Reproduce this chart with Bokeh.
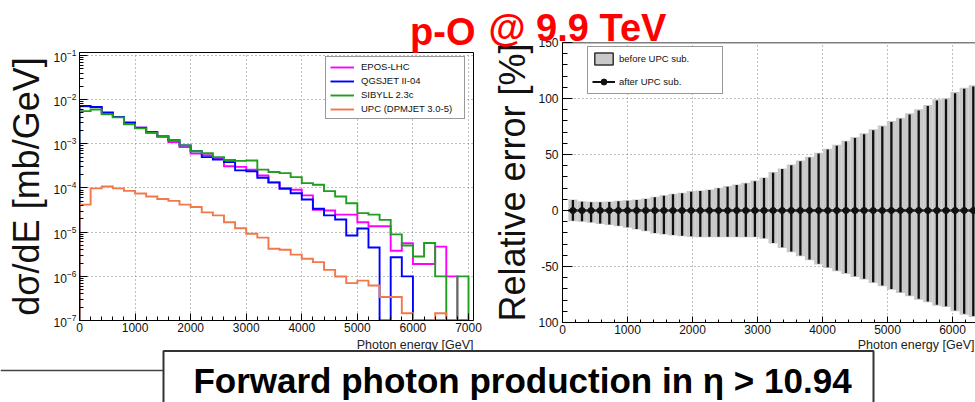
import numpy as np
from bokeh.plotting import figure
from bokeh.models import (Range1d, SingleIntervalTicker, LogTicker, Span, Title,
                          Legend, LegendItem, ColumnDataSource)
from bokeh.layouts import row, column
from bokeh.embed import file_html
from bokeh.resources import INLINE
from bokeh.core.properties import value

# ---------------- data ----------------
energy_edges = [0, 200, 400, 600, 800, 1000, 1200, 1400, 1600, 1800, 2000, 2200, 2400, 2600,
                2800, 3000, 3200, 3400, 3600, 3800, 4000, 4200, 4400, 4600, 4800, 5000, 5200,
                5400, 5600, 5800, 6000, 6200, 6400, 6600, 6800, 7000]

epos_lhc = [7.05e-3, 6.8e-3, 4.97e-3, 4.03e-3, 2.86e-3, 2.32e-3, 1.82e-3, 1.47e-3, 1.09e-3, 8.4e-4,
            6.0e-4, 5.5e-4, 4.8e-4, 3.1e-4, 3.0e-4, 2.6e-4, 1.92e-4, 1.36e-4, 9.9e-5, 9.1e-5,
            6.8e-5, 3.2e-5, 3.1e-5, 2.5e-5, 2.5e-5, 1.68e-5, 1.36e-5, 1.36e-5, 3.8e-6, 5.6e-6,
            1.9e-6, 1.9e-6, 4.7e-6, 1.0e-6, 0]
qgsjet = [7.16e-3, 6.8e-3, 5.15e-3, 4.03e-3, 3.06e-3, 2.32e-3, 1.82e-3, 1.47e-3, 1.2e-3, 9.2e-4,
          6.8e-4, 5.0e-4, 4.4e-4, 3.85e-4, 2.5e-4, 2.4e-4, 1.71e-4, 1.32e-4, 9.6e-5, 7.6e-5,
          5.5e-5, 3.4e-5, 2.4e-5, 1.94e-5, 8.4e-6, 1.21e-5, 4.5e-6, 0, 2.7e-6, 1.0e-6,
          0, 0, 0, 0, 0]
sibyll = [5.5e-3, 6.0e-3, 4.65e-3, 3.97e-3, 2.75e-3, 2.24e-3, 1.77e-3, 1.44e-3, 1.2e-3, 9.2e-4,
          6.8e-4, 6.1e-4, 5.0e-4, 4.3e-4, 4.1e-4, 4.2e-4, 2.6e-4, 2.3e-4, 2.17e-4, 1.76e-4,
          1.29e-4, 1.18e-4, 8.5e-5, 6.4e-5, 4.5e-5, 2.7e-5, 2.5e-5, 1.9e-5, 8.9e-6, 5.0e-6,
          2.8e-6, 5.7e-6, 1.0e-6, 0, 1.0e-6]
upc_dpmjet = [4.2e-5, 9.8e-5, 1.08e-4, 9.8e-5, 8.6e-5, 7.5e-5, 6.4e-5, 5.65e-5, 5.1e-5, 4.2e-5,
              3.7e-5, 2.8e-5, 2.4e-5, 1.68e-5, 1.23e-5, 9.2e-6, 7.5e-6, 4.2e-6, 4.0e-6, 3.1e-6,
              2.5e-6, 2.1e-6, 1.4e-6, 9.9e-7, 7.0e-7, 8.0e-7, 6.2e-7, 3.4e-7, 3.4e-7, 1.46e-7,
              0, 0, 1.46e-7, 0, 0]

series_names = ["EPOS-LHC", "QGSJET II-04", "SIBYLL 2.3c", "UPC (DPMJET 3.0-5)"]

rel_energy = [160, 300, 440, 580, 720, 860, 1000, 1140, 1280, 1420, 1560, 1700, 1840, 1980, 2120,
              2260, 2400, 2540, 2680, 2820, 2960, 3100, 3240, 3380, 3520, 3660, 3800, 3940, 4080,
              4220, 4360, 4500, 4640, 4780, 4920, 5060, 5200, 5340, 5480, 5620, 5760, 5900, 6040,
              6180, 6320]
before_up = [9.8, 8.3, 7.8, 7.8, 8.0, 8.6, 9.2, 9.8, 10.7, 12.2, 13.7, 14.9, 15.8, 17.3, 17.9,
             18.8, 20.3, 21.8, 23.3, 24.7, 26.8, 29.5, 34.3, 37.6, 41.1, 44.7, 48.0, 51.6, 55.2,
             58.7, 62.3, 65.6, 68.9, 72.5, 76.0, 79.9, 82.9, 86.8, 90.3, 94.2, 99.3, 100.5, 105.8,
             109.7, 111.8]
before_down = [-9.5, -10.0, -11.0, -12.0, -13.0, -14.0, -15.5, -17.0, -18.5, -20.6, -21.5, -22.4,
               -23.0, -23.6, -23.9, -23.9, -23.9, -23.9, -23.9, -23.9, -23.9, -25.3, -29.5, -33.4,
               -37.3, -40.8, -44.4, -48.3, -51.3, -54.3, -56.6, -59.3, -61.7, -64.7, -67.7, -70.7,
               -73.6, -76.6, -79.6, -82.0, -85.0, -86.2, -90.0, -93.0, -95.0]
after_value = [0] * 45
after_up = [9.3, 7.9, 7.4, 7.4, 7.6, 8.2, 8.8, 9.4, 10.3, 11.8, 13.2, 14.4, 15.3, 16.8, 17.4,
            18.3, 19.8, 21.3, 22.8, 24.2, 26.2, 29.0, 33.7, 37.0, 40.5, 44.0, 47.3, 50.9, 54.4,
            57.9, 61.5, 64.8, 68.0, 71.6, 75.1, 79.0, 82.0, 85.8, 89.3, 93.2, 98.2, 99.4, 104.7,
            108.6, 110.7]
after_down = [-9.1, -9.6, -10.6, -11.6, -12.6, -13.6, -15.0, -16.5, -18.0, -20.1, -21.0, -21.9,
              -22.5, -23.1, -23.4, -23.4, -23.4, -23.4, -23.4, -23.4, -23.4, -24.8, -29.0, -32.8,
              -36.7, -40.2, -43.8, -47.6, -50.6, -53.6, -55.9, -58.6, -61.0, -64.0, -67.0, -70.0,
              -72.9, -75.9, -78.9, -81.3, -84.2, -85.4, -89.2, -92.2, -94.2]

x_title = "Photon energy [GeV]"
banner_text = "Forward photon production in η > 10.94"

# ---------------- styles ----------------
FONT = "Liberation Sans"
colors = ["#ff00ff", "#0000ff", "#1f9e1f", "#f2784b"]
GRID_DASH = "1 3"
GRID_COLOR = "#808080"
YMIN = 1e-7


def style_axis(ax, major_in=8, minor_in=4, standoff=4):
    ax.major_tick_in = major_in
    ax.major_tick_out = 0
    ax.minor_tick_in = minor_in
    ax.minor_tick_out = 0
    ax.axis_line_color = "black"
    ax.major_tick_line_color = "black"
    ax.minor_tick_line_color = "black"
    ax.major_label_text_font = FONT
    ax.major_label_text_font_size = "12px"
    ax.major_label_text_color = "#111111"
    ax.major_label_standoff = standoff


def big_axis_label(ax, text, standoff):
    ax.axis_label = text
    ax.axis_label_text_font = FONT
    ax.axis_label_text_font_size = "36px"
    ax.axis_label_text_font_style = "normal"
    ax.axis_label_text_color = "#111111"
    ax.axis_label_standoff = standoff


def red_title(text, align, offset, standoff):
    return Title(text=text, align=align, offset=offset, standoff=standoff, vertical_align="bottom",
                 text_font=FONT, text_font_size="38px", text_font_style="bold",
                 text_color="#ff0000")


# ---------------- left panel: dσ/dE ----------------
left = figure(width=482, height=338, x_range=Range1d(0, 7090), y_range=Range1d(YMIN, 0.1167),
              y_axis_type="log", output_backend="svg", toolbar_location=None, frame_align=False,
              min_border_left=79, min_border_right=9, min_border_top=52, min_border_bottom=18)
left.background_fill_color = "white"
left.border_fill_color = "white"
left.outline_line_color = "black"
left.outline_line_width = 1
left.xaxis[0].ticker = SingleIntervalTicker(interval=1000, num_minor_ticks=5)
left.yaxis[0].ticker = LogTicker(num_minor_ticks=10)
style_axis(left.xaxis[0], 7, 4, 2)
style_axis(left.yaxis[0], 8, 4, 3)
big_axis_label(left.yaxis[0], "dσ/dE [mb/GeV]", 4)
for g in (left.xgrid[0], left.ygrid[0]):
    g.grid_line_dash = GRID_DASH
    g.grid_line_color = GRID_COLOR
    g.grid_line_width = 1

edges = np.array(energy_edges, dtype=float)
renderers = []
for vals, col in zip([epos_lhc, qgsjet, sibyll, upc_dpmjet], colors):
    v = np.array(vals, dtype=float)
    v = np.where(v > 0, v, YMIN)
    xs = np.repeat(edges, 2)
    ys = np.concatenate([[YMIN], np.repeat(v, 2), [YMIN]])
    r = left.line(xs, ys, line_color=col, line_width=1.9, line_join="miter")
    renderers.append(r)

leg_left = Legend(items=[LegendItem(label=n, renderers=[r]) for n, r in zip(series_names, renderers)],
                  location=(246, 201), margin=0, padding=4, spacing=3,
                  glyph_width=24, glyph_height=10, label_height=10, label_standoff=7, label_width=99,
                  label_text_font=FONT, label_text_font_size="9.5px", label_text_color="#111111",
                  border_line_color="#333333", border_line_width=1.2,
                  background_fill_color="white", background_fill_alpha=1.0)
left.add_layout(leg_left)
left.add_layout(red_title("p-O", "right", -2, -1), "above")

# ---------------- right panel: relative error ----------------
right = figure(width=493, height=338, x_range=Range1d(0, 6354), y_range=Range1d(-100, 150),
               output_backend="svg", toolbar_location=None, frame_align=False,
               min_border_left=80, min_border_right=0, min_border_top=42, min_border_bottom=16)
right.background_fill_color = "white"
right.border_fill_color = "white"
right.outline_line_color = None
right.xaxis[0].ticker = SingleIntervalTicker(interval=1000, num_minor_ticks=5)
right.yaxis[0].ticker = SingleIntervalTicker(interval=50, num_minor_ticks=5)
right.yaxis[0].major_label_overrides = {-100: "100", -50: "-50"}
style_axis(right.xaxis[0], 6, 3, 2)
style_axis(right.yaxis[0], 10, 5, 4)
big_axis_label(right.yaxis[0], "Relative error [%]", 2)
for g in (right.xgrid[0], right.ygrid[0]):
    g.grid_line_dash = GRID_DASH
    g.grid_line_color = GRID_COLOR
    g.grid_line_width = 1
right.add_layout(Span(location=150, dimension="width", line_color="black", line_width=1.5))

xc = np.array(rel_energy, dtype=float)
half = np.diff(xc)[0] / 2.0
src = ColumnDataSource(dict(x=xc, l=xc - half, r=xc + half, up=before_up, dn=before_down,
                            v=after_value, aup=after_up, adn=after_down))
right.quad(left="l", right="r", bottom="dn", top="up", source=src,
           fill_color="#c9c9c9", line_color=None)
right.segment(x0="x", y0="adn", x1="x", y1="aup", source=src, line_color="#111111", line_width=2.3)
right.segment(x0="l", y0="v", x1="r", y1="v", source=src, line_color="#111111", line_width=2.3)
right.scatter(x="x", y="v", source=src, size=6, marker="circle", color="#111111")

# legend-only proxies, placed far outside the visible x range
d_box = right.quad(left=[-3e5], right=[-2e5], top=[1], bottom=[0], fill_color="#c9c9c9",
                   line_color="#333333", line_width=1.5)
d_line = right.line(x=[-3e5, -2e5], y=[0, 0], line_color="#111111", line_width=2)
d_bar = right.scatter(x=[-3e5], y=[0], marker="dash", angle=np.pi / 2, size=15,
                      line_color="#111111", line_width=2)
d_dot = right.scatter(x=[-3e5], y=[0], marker="circle", size=6, color="#111111")
leg_right = Legend(items=[LegendItem(label="before UPC sub.", renderers=[d_box]),
                          LegendItem(label="after UPC sub.", renderers=[d_line, d_bar, d_dot])],
                   location=(25, 228), margin=0, padding=4, spacing=8,
                   glyph_width=23, glyph_height=15, label_height=15, label_standoff=4, label_width=99,
                   label_text_font=FONT, label_text_font_size="9.5px", label_text_color="#111111",
                   border_line_color="#333333", border_line_width=1.2,
                   background_fill_color="white", background_fill_alpha=1.0)
right.add_layout(leg_right)
right.add_layout(red_title("@ 9.9 TeV", "left", -74, -12), "above")

# ---------------- bottom strip: axis titles + banner ----------------
strip = figure(width=975, height=64, x_range=Range1d(0, 975), y_range=Range1d(64, 0),
               output_backend="svg", toolbar_location=None, min_border=0, frame_align=False,
               x_axis_location=None, y_axis_location=None)
strip.grid.visible = False
strip.outline_line_color = None
strip.background_fill_color = "white"
strip.border_fill_color = "white"
strip.text(x=[473, 974], y=[6, 6], text=[x_title, x_title], text_font=value(FONT),
           text_font_size="12.5px", text_align="right", text_baseline="middle", text_color="#222222")
strip.line([0, 163], [32, 32], line_color="#444444", line_width=1.5)
strip.line([163, 163, 873, 873], [65, 12.5, 12.5, 65], line_color="#333333", line_width=2)
strip.text(x=[522], y=[42], text=[banner_text],
           text_font=value(FONT), text_font_style="bold", text_font_size="35px",
           text_align="center", text_baseline="middle", text_color="black")

layout = column(row(left, right), strip)
open("out.html", "w").write(file_html(layout, INLINE))
